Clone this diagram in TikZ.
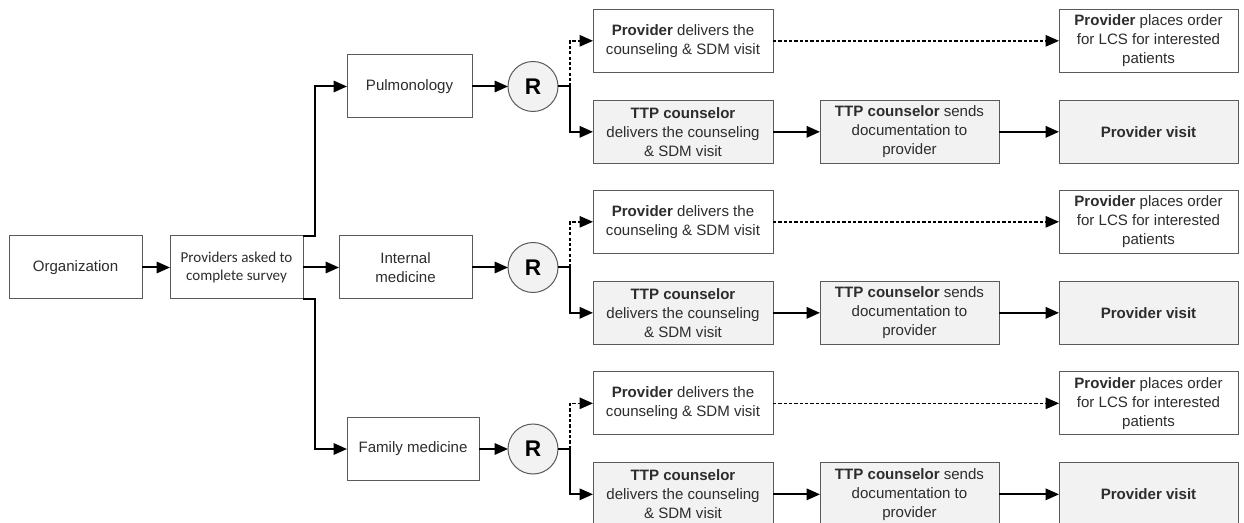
\documentclass[tikz,border=0pt]{standalone}
\usepackage{fontspec}
\setmainfont{Liberation Sans}
\newfontfamily\surveyfont{Carlito}
\usetikzlibrary{arrows.meta,positioning}
\definecolor{boxline}{RGB}{90,90,90}
\definecolor{textcolor}{RGB}{45,45,45}
\definecolor{shadecolor}{RGB}{242,242,242}

\begin{document}
\begin{tikzpicture}[
    x=0.75pt, y=-0.75pt,
    every node/.style={font=\fontsize{11.3}{14.2}\selectfont, text=textcolor},
    box/.style={rectangle, draw=boxline, line width=0.75pt, fill=white, minimum width=99.75pt, minimum height=47.25pt, align=center, inner sep=2pt, outer sep=0pt},
    stepbox/.style={box, minimum width=135pt},
    shadebox/.style={stepbox, fill=shadecolor},
    rand/.style={circle, draw=boxline, line width=0.75pt, fill=shadecolor, minimum size=37.5pt, inner sep=0pt, outer sep=0pt, font=\fontsize{17}{17}\selectfont\bfseries, text=black},
    line/.style={line width=1.5pt, black},
    arrow/.style={line, -{Triangle[length=10pt,width=8.5pt]}},
    dotarrow/.style={arrow, line width=1.2pt, dash pattern=on 2.4pt off 1.6pt}
]
\useasboundingbox (0,0) rectangle (1244,523);

% Left: organization and survey
\node[box] (org) at (75.5,267.5) {Organization};
\node[box, right=21pt of org, font=\surveyfont\fontsize{11.3}{14.2}\selectfont] (survey) {Providers asked to\\complete survey};

% Specialties
\node[box, minimum width=93.75pt] (pulm) at (409.5,86.5) {Pulmonology};
\node[box, right=27pt of survey] (intmed) {Internal\\medicine};
\node[box, minimum width=99pt] (fammed) at (413,449) {Family medicine};

% Randomization
\node[rand, right=27pt of pulm] (rand1) {R};
\node[rand, right=27pt of intmed] (rand2) {R};
\node[rand, right=21.75pt of fammed] (rand3) {R};

% Pulmonology arm
\node[shadebox, right=26.25pt of rand1, yshift=-34pt] (tdel1) {\textbf{TTP counselor}\\delivers the counseling\\\& SDM visit};
\node[stepbox, above=21pt of tdel1] (pdel1) {\textbf{Provider} delivers the\\counseling \& SDM visit};
\node[shadebox, right=35.25pt of tdel1, minimum width=134.25pt] (send1) {\textbf{TTP counselor} sends\\documentation to\\provider};
\node[shadebox, right=45pt of send1, minimum width=134.25pt] (visit1) {\textbf{Provider visit}};
\node[stepbox, above=21pt of visit1, minimum width=134.25pt] (order1) {\textbf{Provider} places order\\for LCS for interested\\patients};

% Internal medicine arm
\node[shadebox, right=26.25pt of rand2, yshift=-34pt] (tdel2) {\textbf{TTP counselor}\\delivers the counseling\\\& SDM visit};
\node[stepbox, above=21pt of tdel2] (pdel2) {\textbf{Provider} delivers the\\counseling \& SDM visit};
\node[shadebox, right=35.25pt of tdel2, minimum width=134.25pt] (send2) {\textbf{TTP counselor} sends\\documentation to\\provider};
\node[shadebox, right=45pt of send2, minimum width=134.25pt] (visit2) {\textbf{Provider visit}};
\node[stepbox, above=21pt of visit2, minimum width=134.25pt] (order2) {\textbf{Provider} places order\\for LCS for interested\\patients};

% Family medicine arm
\node[shadebox, right=26.25pt of rand3, yshift=-34pt] (tdel3) {\textbf{TTP counselor}\\delivers the counseling\\\& SDM visit};
\node[stepbox, above=21pt of tdel3] (pdel3) {\textbf{Provider} delivers the\\counseling \& SDM visit};
\node[shadebox, right=35.25pt of tdel3, minimum width=134.25pt] (send3) {\textbf{TTP counselor} sends\\documentation to\\provider};
\node[shadebox, right=45pt of send3, minimum width=134.25pt] (visit3) {\textbf{Provider visit}};
\node[stepbox, above=21pt of visit3, minimum width=134.25pt] (order3) {\textbf{Provider} places order\\for LCS for interested\\patients};

% Left flow
\draw[arrow] (org) -- (survey);
\draw[arrow] (survey) -- (intmed);
\draw[arrow] (survey.north east) -- ++(9pt,0) |- (pulm);
\draw[arrow] (survey.south east) -- ++(9pt,0) |- (fammed);

\draw[arrow] (pulm) -- (rand1);
\draw[arrow] (intmed) -- (rand2);
\draw[arrow] (fammed) -- (rand3);

% Forks after randomization
\foreach \i in {1,2,3} {
    \draw[line] (rand\i.east) -- ++(9pt,0) coordinate (fork\i);
    \draw[arrow] (fork\i) |- (tdel\i);
    \draw[dotarrow] (fork\i) |- (pdel\i);
    \draw[dotarrow] (pdel\i) -- (order\i);
    \draw[arrow] (tdel\i) -- (send\i);
    \draw[arrow] (send\i) -- (visit\i);
}

\end{tikzpicture}
\end{document}
